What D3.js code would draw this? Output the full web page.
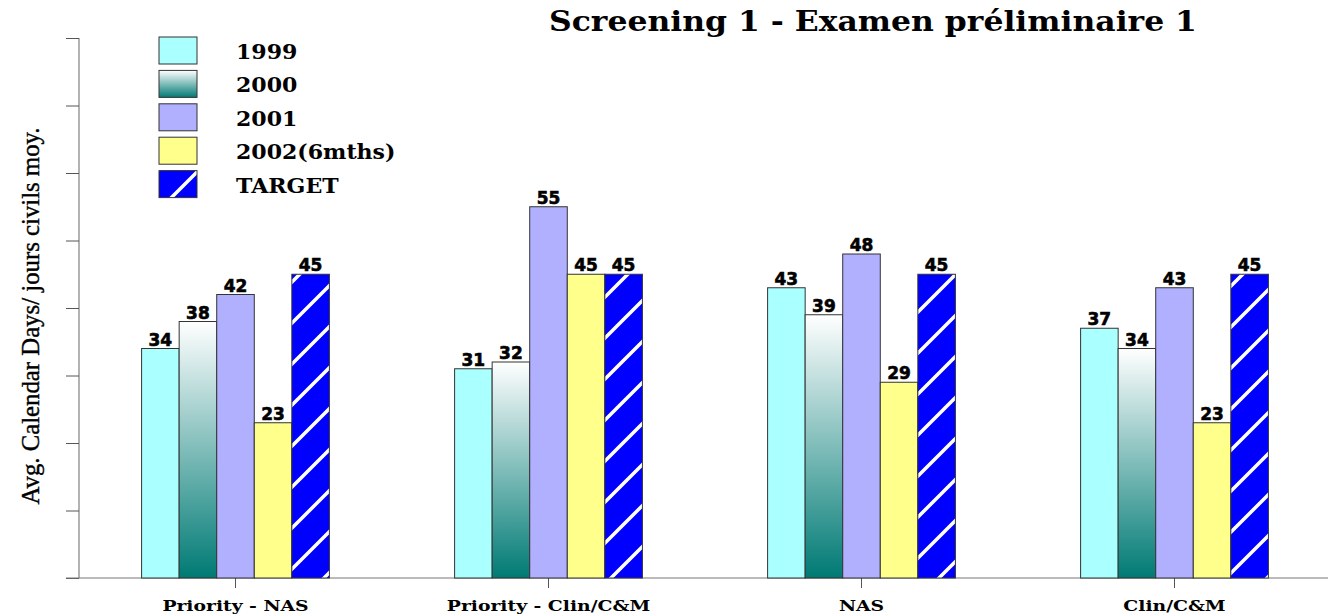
<!DOCTYPE html>
<html><head><meta charset="utf-8">
<script src="https://cdn.jsdelivr.net/npm/d3@7"></script>
<style>body{margin:0;background:#fff}svg{display:block}</style>
</head><body>
<script>
const categories = ["Priority - NAS", "Priority - Clin/C&M", "NAS", "Clin/C&M"];
const seriesNames = ["1999", "2000", "2001", "2002(6mths)", "TARGET"];
const v1999 = [34, 31, 43, 37];
const v2000 = [38, 32, 39, 34];
const v2001 = [42, 55, 48, 43];
const v2002 = [23, 45, 29, 23];
const vTarget = [45, 45, 45, 45];
const yTicks = [0, 10, 20, 30, 40, 50, 60, 70, 80];
const titleText = "Screening 1 - Examen préliminaire 1";
const yLabel = "Avg. Calendar Days/ jours civils moy.";

const series = [v1999, v2000, v2001, v2002, vTarget];
const fills = ["#aaffff", "url(#grad2000)", "#b0b0ff", "#ffff8c", "url(#hatch)"];
const serif = "DejaVu Serif, serif";

const W = 1328, H = 616;
const svg = d3.select("body").append("svg").attr("width", W).attr("height", H);
const defs = svg.append("defs");
const g = defs.append("linearGradient").attr("id", "grad2000").attr("x1", 0).attr("y1", 0).attr("x2", 0).attr("y2", 1);
g.append("stop").attr("offset", "0%").attr("stop-color", "#ffffff");
g.append("stop").attr("offset", "100%").attr("stop-color", "#007a74");
const p = defs.append("pattern").attr("id", "hatch").attr("patternUnits", "userSpaceOnUse")
  .attr("width", 41).attr("height", 41);
p.append("rect").attr("width", 41).attr("height", 41).attr("fill", "#0000ff");
p.append("path").attr("d", "M-5,46 L46,-5 M-5,5 L5,-5 M36,46 L46,36")
  .attr("stroke", "#fff").attr("stroke-width", 3.5);

const x0 = d3.scaleBand().domain(categories).range([79, 1331]).paddingInner(0.4).paddingOuter(0.2);
const x1 = d3.scaleBand().domain(d3.range(5)).range([0, x0.bandwidth()]);
const y = d3.scaleLinear().domain([0, 80]).range([578, 38]);

// axes
const yAxis = svg.append("g").attr("transform", "translate(79,0)")
  .call(d3.axisLeft(y).tickValues(yTicks).tickSize(13).tickFormat(""));
yAxis.select(".domain").attr("stroke", "#666").attr("d", "M0,578V38");
yAxis.selectAll(".tick line").attr("stroke", "#555");

const xAxis = svg.append("g").attr("transform", "translate(0,578)")
  .call(d3.axisBottom(x0).tickSize(10).tickFormat(""));
xAxis.select(".domain").attr("stroke", "#777").attr("d", "M66,0H1328");
xAxis.selectAll(".tick line").attr("stroke", "#555");

svg.append("g").selectAll("text").data(categories).join("text")
  .attr("transform", d => `translate(${x0(d) + x0.bandwidth() / 2},611) scale(1.34,1)`)
  .attr("text-anchor", "middle")
  .style("font-family", serif).style("font-weight", "bold").style("font-size", "14px")
  .text(d => d);

// bars
categories.forEach((c, ci) => {
  series.forEach((s, si) => {
    const bx = x0(c) + x1(si), bw = x1.bandwidth();
    svg.append("rect").attr("x", bx).attr("y", y(s[ci])).attr("width", bw)
      .attr("height", y(0) - y(s[ci])).attr("fill", fills[si])
      .attr("stroke", "#333").attr("stroke-width", 1);
    svg.append("text").attr("x", bx + bw / 2).attr("y", y(s[ci]) - 3)
      .attr("text-anchor", "middle")
      .style("font-family", "DejaVu Sans, sans-serif").style("font-weight", "bold").style("font-size", "17px")
      .style("stroke", "#000").style("stroke-width", 0.6)
      .text(s[ci]);
  });
});

// legend
const leg = svg.append("g");
seriesNames.forEach((n, i) => {
  const ly = 37 + i * 33.4;
  leg.append("rect").attr("x", 159).attr("y", ly).attr("width", 38).attr("height", 27)
    .attr("fill", fills[i]).attr("stroke", "#333");
  leg.append("text").attr("transform", `translate(236,${ly + 22}) scale(1.05,1)`)
    .style("font-family", serif).style("font-weight", "bold").style("font-size", "21px")
    .text(n);
});

// title
svg.append("text").attr("x", 873).attr("y", 31).attr("text-anchor", "middle")
  .attr("textLength", 648).attr("lengthAdjust", "spacingAndGlyphs")
  .style("font-family", serif).style("font-weight", "bold").style("font-size", "28px")
  .text(titleText);

// y label
svg.append("text").attr("transform", "translate(39,316) rotate(-90)").attr("text-anchor", "middle")
  .attr("textLength", 377).attr("lengthAdjust", "spacingAndGlyphs")
  .style("font-family", "Liberation Serif, serif").style("font-size", "26px")
  .style("stroke", "#000").style("stroke-width", 0.4)
  .text(yLabel);
</script>
</body></html>
